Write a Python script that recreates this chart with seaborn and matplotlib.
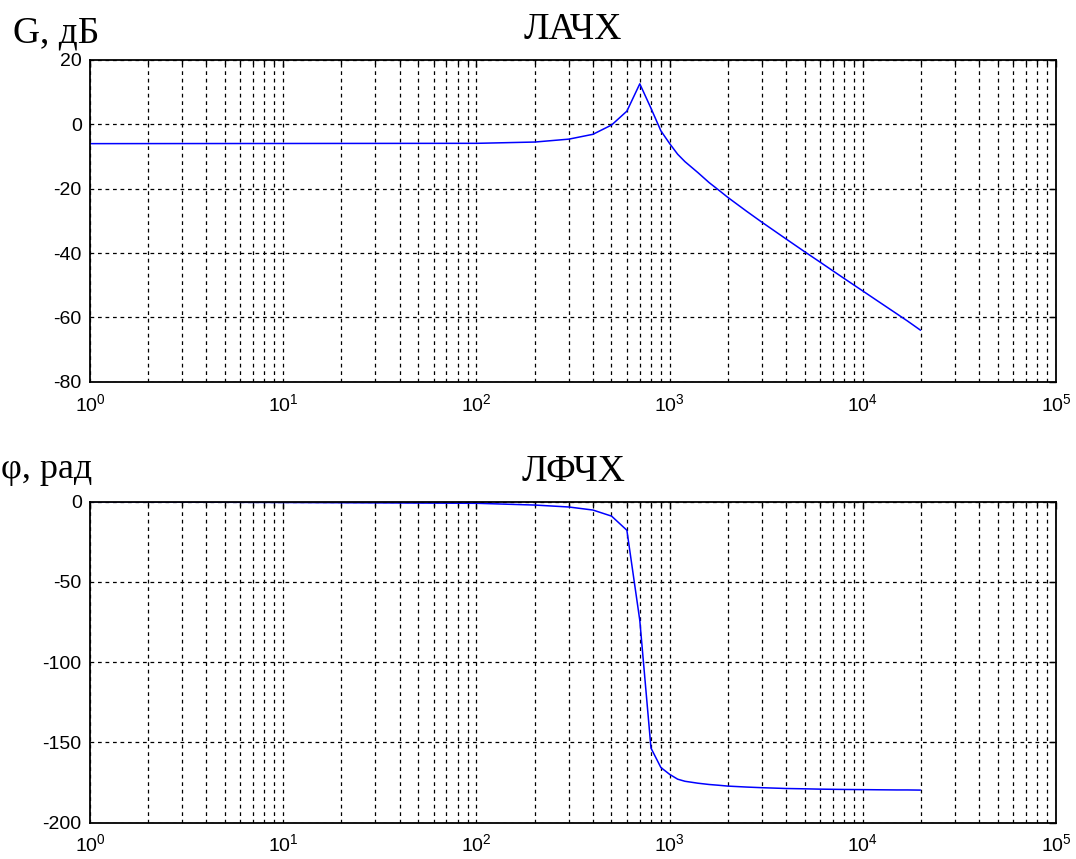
import numpy as np
import pandas as pd
import matplotlib
matplotlib.use('Agg')
import matplotlib.pyplot as plt
import seaborn as sns

# частоты, Гц
freq = [1, 101, 201, 301, 401, 501, 601, 701, 801, 901, 1001, 1101, 1201,
        1401, 1601, 1801, 2001, 2501, 3001, 4001, 5001, 6001, 8001,
        10001, 12001, 15001, 17001, 19901]

# ЛАЧХ, дБ
gain_db = [-6.0, -5.9, -5.5, -4.6, -3.1, -0.2, 4.1, 12.6, 5.0, -2.0, -6.0,
           -9.3, -11.6, -15.0, -18.1, -20.5, -22.7, -27.0, -30.4, -35.6,
           -39.6, -42.8, -47.9, -51.8, -55.0, -58.9, -61.1, -64.0]

# ЛФЧХ, град
phase = [0.0, -1.0, -2.1, -3.3, -5.2, -9.0, -17.8, -74.0, -153.6, -165.7,
         -170.0, -173.0, -174.3, -175.5, -176.3, -176.8, -177.3, -177.9,
         -178.3, -178.8, -179.0, -179.2, -179.4, -179.5, -179.6, -179.7,
         -179.7, -179.8]

df = pd.DataFrame({'f': freq, 'G': gain_db, 'phi': phase})

sns.set_style('white')
plt.rcParams['font.family'] = ['Liberation Sans', 'DejaVu Sans']
plt.rcParams['mathtext.fontset'] = 'custom'
plt.rcParams['mathtext.rm'] = 'Liberation Sans'
plt.rcParams['mathtext.it'] = 'Liberation Sans:italic'
plt.rcParams['axes.unicode_minus'] = False
plt.rcParams['text.color'] = 'black'
plt.rcParams['xtick.color'] = 'black'
plt.rcParams['ytick.color'] = 'black'
plt.rcParams['axes.labelcolor'] = 'black'

fig = plt.figure(figsize=(10.76, 8.59), dpi=100)
ax1 = fig.add_axes([90 / 1076, 1 - 381.7 / 859, 966 / 1076, 321.7 / 859])
ax2 = fig.add_axes([90 / 1076, 1 - 822.5 / 859, 966 / 1076, 320.8 / 859])

serif = ['Liberation Serif', 'DejaVu Serif']


def style_axis(ax, ylim, yticks, title):
    ax.set_xscale('log')
    ax.set_xlim(1, 1e5)
    ax.set_ylim(*ylim)
    ax.set_yticks(yticks)
    ax.set_xticks([1, 10, 100, 1000, 10000, 100000])
    ax.xaxis.set_minor_locator(matplotlib.ticker.LogLocator(base=10, subs=np.arange(2, 10), numticks=20))
    ax.xaxis.set_minor_formatter(matplotlib.ticker.NullFormatter())
    ax.grid(True, which='major', color='black', linestyle=(0, (3, 3)), linewidth=0.9)
    ax.grid(True, which='minor', axis='x', color='black', linestyle=(0, (3, 3)), linewidth=0.9)
    ax.tick_params(which='both', direction='in', top=True, right=True, length=5,
                   labelsize=14, width=1, colors='black')
    ax.tick_params(which='minor', length=3)
    ax.tick_params(axis='x', pad=8)
    ax.tick_params(axis='y', pad=6)
    for s in ax.spines.values():
        s.set_linewidth(1.3)
        s.set_color('black')
    ax.set_xlabel('')
    ax.set_ylabel('')
    ax.set_title(title, fontsize=27, family=serif, pad=15, color='black')
    return ax


sns.lineplot(data=df, x='f', y='G', ax=ax1, color='#0000ff', linewidth=1.1)
sns.lineplot(data=df, x='f', y='phi', ax=ax2, color='#0000ff', linewidth=1.1)

style_axis(ax1, (-80, 20), [-80, -60, -40, -20, 0, 20], 'ЛАЧХ')
style_axis(ax2, (-200, 0), [-200, -150, -100, -50, 0], 'ЛФЧХ')

fig.text(13 / 1076, 1 - 42 / 859, 'G, дБ', fontsize=27, family=serif, ha='left', va='baseline')
fig.text(1 / 1076, 1 - 478 / 859, 'φ, рад', fontsize=26, family=serif, ha='left', va='baseline')

fig.savefig('out.png', dpi=100)
